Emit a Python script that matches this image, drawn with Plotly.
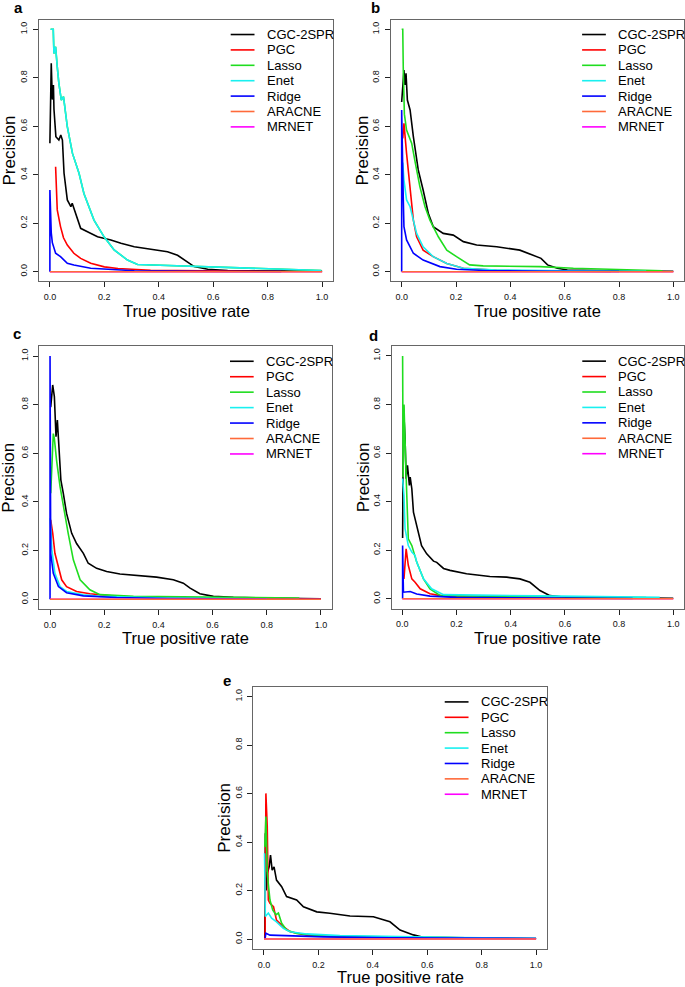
import plotly.graph_objects as go

# ---------------- data ----------------
series_names = ["CGC-2SPR", "PGC", "Lasso", "Enet", "Ridge", "ARACNE", "MRNET"]
series_colors = ["#000000", "#FF0000", "#1FDD1F", "#19F0F0", "#0000FF", "#FF6A3A", "#FF00FF"]
panel_letters = ["a", "b", "c", "d", "e"]
tick_vals = [0.0, 0.2, 0.4, 0.6, 0.8, 1.0]
tick_text = ["0.0", "0.2", "0.4", "0.6", "0.8", "1.0"]
x_title = "True positive rate"
y_title = "Precision"

flat_tpr = [0.0, 1.0]
flat_prec = [0.0, 0.0]

# panel a
a_cgc_tpr = [0.0, 0.005, 0.009, 0.013, 0.015, 0.019, 0.022, 0.033, 0.040, 0.046, 0.052, 0.064, 0.077, 0.082, 0.095, 0.113, 0.138, 0.175, 0.224, 0.261, 0.31, 0.371, 0.432, 0.469, 0.494, 0.53, 0.58, 0.653, 0.74, 0.85, 1.0]
a_cgc_prec = [0.53, 0.86, 0.71, 0.77, 0.67, 0.585, 0.557, 0.543, 0.564, 0.543, 0.406, 0.296, 0.268, 0.282, 0.240, 0.179, 0.165, 0.144, 0.131, 0.117, 0.103, 0.092, 0.082, 0.068, 0.048, 0.021, 0.010, 0.005, 0.004, 0.003, 0.002]
a_pgc_tpr = [0.021, 0.024, 0.027, 0.039, 0.05, 0.064, 0.088, 0.113, 0.15, 0.2, 0.25, 0.37, 0.55, 0.85]
a_pgc_prec = [0.433, 0.30, 0.255, 0.186, 0.14, 0.11, 0.076, 0.055, 0.035, 0.02, 0.013, 0.006, 0.003, 0.001]
a_enet_tpr = [0.0026, 0.0124, 0.0148, 0.021, 0.027, 0.033, 0.042, 0.05, 0.064, 0.083, 0.107, 0.125, 0.162, 0.199, 0.236, 0.285, 0.322, 0.4, 0.555, 0.8, 0.997]
a_enet_prec = [1.0, 1.0, 0.90, 0.928, 0.846, 0.777, 0.708, 0.722, 0.598, 0.488, 0.406, 0.323, 0.213, 0.144, 0.09, 0.048, 0.03, 0.027, 0.021, 0.010, 0.005]
a_lasso_tpr = a_enet_tpr   # hidden under Enet in panel a
a_lasso_prec = a_enet_prec
a_ridge_tpr = [0.0, 0.0, 0.005, 0.009, 0.021, 0.039, 0.064, 0.088, 0.15, 0.211, 0.31, 0.6, 0.85]
a_ridge_prec = [0.0, 0.337, 0.16, 0.12, 0.076, 0.062, 0.035, 0.028, 0.014, 0.010, 0.004, 0.001, 0.001]

# panel b
b_cgc_tpr = [0.0, 0.004, 0.0084, 0.012, 0.016, 0.021, 0.031, 0.043, 0.061, 0.079, 0.098, 0.116, 0.153, 0.19, 0.227, 0.276, 0.35, 0.435, 0.464, 0.513, 0.537, 0.573, 0.61, 0.7, 0.85, 1.0]
b_cgc_prec = [0.70, 0.78, 0.832, 0.77, 0.818, 0.708, 0.667, 0.557, 0.42, 0.337, 0.241, 0.186, 0.158, 0.151, 0.124, 0.11, 0.103, 0.089, 0.076, 0.055, 0.028, 0.014, 0.007, 0.005, 0.003, 0.002]
b_pgc_tpr = [0.004, 0.0084, 0.018, 0.031, 0.043, 0.055, 0.079, 0.116, 0.166, 0.227, 0.35, 0.5, 0.77]
b_pgc_prec = [0.55, 0.612, 0.488, 0.35, 0.213, 0.144, 0.089, 0.062, 0.034, 0.014, 0.006, 0.003, 0.001]
b_lasso_tpr = [0.0, 0.004, 0.006, 0.01, 0.018, 0.037, 0.05, 0.067, 0.086, 0.104, 0.135, 0.166, 0.202, 0.25, 0.3, 0.509, 0.632, 0.877, 0.96]
b_lasso_prec = [1.0, 1.0, 0.83, 0.65, 0.584, 0.529, 0.45, 0.351, 0.268, 0.213, 0.144, 0.089, 0.062, 0.028, 0.024, 0.021, 0.014, 0.007, 0.004]
b_enet_tpr = [0.004, 0.0084, 0.018, 0.031, 0.055, 0.079, 0.116, 0.166, 0.227, 0.35, 0.6, 0.9]
b_enet_prec = [0.45, 0.378, 0.296, 0.268, 0.158, 0.103, 0.062, 0.034, 0.014, 0.007, 0.004, 0.002]
b_ridge_tpr = [0.0, 0.0, 0.006, 0.0084, 0.018, 0.043, 0.079, 0.141, 0.202, 0.325, 0.55, 0.8]
b_ridge_prec = [0.0, 0.667, 0.296, 0.186, 0.131, 0.076, 0.048, 0.021, 0.010, 0.004, 0.002, 0.001]

# panel c
c_cgc_tpr = [0.0025, 0.0098, 0.016, 0.022, 0.027, 0.034, 0.040, 0.049, 0.061, 0.080, 0.098, 0.123, 0.141, 0.172, 0.209, 0.258, 0.332, 0.393, 0.455, 0.492, 0.517, 0.553, 0.603, 0.677, 0.8, 1.0]
c_cgc_prec = [0.79, 0.881, 0.833, 0.668, 0.737, 0.572, 0.49, 0.435, 0.353, 0.271, 0.229, 0.189, 0.148, 0.127, 0.114, 0.104, 0.096, 0.091, 0.080, 0.066, 0.046, 0.023, 0.012, 0.008, 0.005, 0.002]
c_pgc_tpr = [0.0025, 0.01, 0.018, 0.031, 0.043, 0.061, 0.098, 0.147, 0.246, 0.43, 0.7]
c_pgc_prec = [0.326, 0.271, 0.189, 0.134, 0.08, 0.052, 0.032, 0.023, 0.012, 0.005, 0.002]
c_lasso_tpr = [0.0025, 0.012, 0.016, 0.024, 0.037, 0.049, 0.067, 0.086, 0.111, 0.147, 0.184, 0.308, 0.553, 0.92]
c_lasso_prec = [0.436, 0.681, 0.66, 0.572, 0.463, 0.381, 0.271, 0.162, 0.08, 0.039, 0.019, 0.012, 0.008, 0.005]
c_enet_tpr = [0.0008, 0.0068, 0.018, 0.037, 0.061, 0.123, 0.184, 0.43, 0.8]
c_enet_prec = [0.333, 0.203, 0.107, 0.052, 0.032, 0.018, 0.012, 0.005, 0.002]
c_ridge_tpr = [0.0, 0.0, 0.0025, 0.012, 0.031, 0.061, 0.123, 0.246, 0.43, 0.8]
c_ridge_prec = [0.0, 1.0, 0.189, 0.107, 0.052, 0.027, 0.014, 0.007, 0.003, 0.001]

# panel d
d_cgc_tpr = [0.001, 0.004, 0.010, 0.014, 0.019, 0.026, 0.029, 0.035, 0.041, 0.053, 0.071, 0.090, 0.115, 0.127, 0.152, 0.176, 0.237, 0.323, 0.385, 0.434, 0.471, 0.508, 0.545, 0.594, 0.7, 0.85, 1.0]
d_cgc_prec = [0.25, 0.797, 0.66, 0.494, 0.55, 0.467, 0.501, 0.453, 0.357, 0.30, 0.219, 0.185, 0.155, 0.150, 0.125, 0.117, 0.103, 0.092, 0.089, 0.082, 0.068, 0.034, 0.013, 0.007, 0.005, 0.003, 0.002]
d_pgc_tpr = [0.006, 0.010, 0.014, 0.022, 0.035, 0.047, 0.066, 0.102, 0.152, 0.3, 0.6]
d_pgc_prec = [0.082, 0.165, 0.206, 0.138, 0.082, 0.068, 0.041, 0.021, 0.011, 0.005, 0.002]
d_lasso_tpr = [0.001, 0.003, 0.006, 0.010, 0.016, 0.022, 0.035, 0.053, 0.078, 0.102, 0.139, 0.2, 0.5, 0.9]
d_lasso_prec = [1.0, 0.5, 0.8, 0.604, 0.44, 0.247, 0.219, 0.151, 0.082, 0.041, 0.014, 0.012, 0.008, 0.005]
d_enet_tpr = [0.001, 0.006, 0.010, 0.022, 0.035, 0.047, 0.053, 0.078, 0.108, 0.152, 0.5, 0.95]
d_enet_prec = [0.495, 0.426, 0.289, 0.219, 0.192, 0.178, 0.151, 0.082, 0.041, 0.017, 0.012, 0.006]
d_ridge_tpr = [0.001, 0.001, 0.004, 0.016, 0.029, 0.053, 0.102, 0.2, 0.45, 0.85]
d_ridge_prec = [0.0, 0.219, 0.027, 0.027, 0.03, 0.02, 0.011, 0.006, 0.003, 0.001]

# panel e
e_cgc_tpr = [0.003, 0.005, 0.008, 0.012, 0.019, 0.024, 0.030, 0.037, 0.046, 0.065, 0.083, 0.12, 0.145, 0.194, 0.242, 0.316, 0.402, 0.463, 0.5, 0.549, 0.585, 0.7, 0.85, 1.0]
e_cgc_prec = [0.0, 0.436, 0.2, 0.271, 0.298, 0.346, 0.284, 0.298, 0.243, 0.216, 0.175, 0.161, 0.133, 0.112, 0.106, 0.095, 0.092, 0.071, 0.037, 0.017, 0.007, 0.005, 0.003, 0.002]
e_pgc_tpr = [0.004, 0.006, 0.007, 0.012, 0.016, 0.022, 0.035, 0.046, 0.071, 0.096, 0.157, 0.279, 0.6]
e_pgc_prec = [0.0, 0.271, 0.601, 0.464, 0.161, 0.147, 0.133, 0.078, 0.051, 0.03, 0.016, 0.009, 0.003]
e_lasso_tpr = [0.003, 0.007, 0.012, 0.022, 0.032, 0.044, 0.053, 0.065, 0.083, 0.12, 0.219, 0.463, 0.71, 0.8]
e_lasso_prec = [0.38, 0.505, 0.271, 0.161, 0.12, 0.1, 0.107, 0.065, 0.037, 0.023, 0.012, 0.009, 0.005, 0.004]
e_enet_tpr = [0.002, 0.005, 0.016, 0.028, 0.046, 0.071, 0.096, 0.157, 0.279, 0.463, 0.71, 1.0]
e_enet_prec = [0.354, 0.093, 0.107, 0.086, 0.071, 0.044, 0.03, 0.021, 0.014, 0.010, 0.006, 0.003]
e_ridge_tpr = [0.004, 0.007, 0.022, 0.096, 0.219, 0.463, 1.0]
e_ridge_prec = [0.0, 0.024, 0.016, 0.013, 0.009, 0.005, 0.002]

panel_series = [
    [(a_cgc_tpr, a_cgc_prec), (a_pgc_tpr, a_pgc_prec), (a_lasso_tpr, a_lasso_prec), (a_enet_tpr, a_enet_prec), (a_ridge_tpr, a_ridge_prec), (flat_tpr, flat_prec), (flat_tpr, flat_prec)],
    [(b_cgc_tpr, b_cgc_prec), (b_pgc_tpr, b_pgc_prec), (b_lasso_tpr, b_lasso_prec), (b_enet_tpr, b_enet_prec), (b_ridge_tpr, b_ridge_prec), (flat_tpr, flat_prec), (flat_tpr, flat_prec)],
    [(c_cgc_tpr, c_cgc_prec), (c_pgc_tpr, c_pgc_prec), (c_lasso_tpr, c_lasso_prec), (c_enet_tpr, c_enet_prec), (c_ridge_tpr, c_ridge_prec), (flat_tpr, flat_prec), (flat_tpr, flat_prec)],
    [(d_cgc_tpr, d_cgc_prec), (d_pgc_tpr, d_pgc_prec), (d_lasso_tpr, d_lasso_prec), (d_enet_tpr, d_enet_prec), (d_ridge_tpr, d_ridge_prec), (flat_tpr, flat_prec), (flat_tpr, flat_prec)],
    [(e_cgc_tpr, e_cgc_prec), (e_pgc_tpr, e_pgc_prec), (e_lasso_tpr, e_lasso_prec), (e_enet_tpr, e_enet_prec), (e_ridge_tpr, e_ridge_prec), (flat_tpr, flat_prec), (flat_tpr, flat_prec)],
]

# ---------------- layout geometry (pixels) ----------------
W, H = 685, 987
# plot boxes: (left, right, top, bottom) in px
boxes = [
    (39.0, 333.0, 19.6, 281.4),
    (390.8, 684.2, 19.6, 281.4),
    (39.2, 331.8, 346.3, 609.0),
    (391.5, 684.1, 346.2, 608.5),
    (253.1, 547.0, 687.0, 948.7),
]
ytitle_x = [9, 362, 9, 363, 225]
xtitle_y = [311, 311, 638, 638, 977]
letter_pos = [(18, 7), (375, 7), (17, 334), (373, 335), (227, 680)]

FONT = "Liberation Sans, Arial, Helvetica, sans-serif"

fig = go.Figure()
layout = dict(
    width=W, height=H, autosize=False,
    margin=dict(l=0, r=0, t=0, b=0),
    paper_bgcolor="white", plot_bgcolor="white",
    showlegend=False,
    font=dict(family=FONT, color="#000"),
)
shapes = []
annotations = []

draw_order = [0, 1, 2, 3, 4, 6, 5]  # MRNET under ARACNE

for p, (l, r, t, b) in enumerate(boxes):
    n = p + 1
    xa = "xaxis" if n == 1 else f"xaxis{n}"
    ya = "yaxis" if n == 1 else f"yaxis{n}"
    xr = "x" if n == 1 else f"x{n}"
    yr = "y" if n == 1 else f"y{n}"
    axis_common = dict(
        range=[-0.04, 1.04], tickvals=tick_vals, ticktext=tick_text,
        showline=True, mirror=True, linecolor="#666", linewidth=1,
        ticks="outside", ticklen=5, tickcolor="#222", tickwidth=1,
        showgrid=False, zeroline=False, fixedrange=True,
        tickfont=dict(size=9, family=FONT, color="#111"),
    )
    layout[xa] = dict(axis_common, domain=[l / W, r / W], anchor=yr, ticklabelstandoff=2)
    layout[ya] = dict(axis_common, domain=[1 - b / H, 1 - t / H], anchor=xr, tickangle=-90, ticklabelstandoff=2)

    for i in draw_order:
        xs, ys = panel_series[p][i]
        fig.add_trace(go.Scatter(
            x=xs, y=ys, mode="lines", name=series_names[i],
            line=dict(color=series_colors[i], width=1.6),
            xaxis=xr, yaxis=yr, hoverinfo="skip",
        ))

    # legend (R style, no frame)
    for i, name in enumerate(series_names):
        yy = 1 - 0.057 - i * 0.0588
        shapes.append(dict(type="line", xref=f"{xr} domain", yref=f"{yr} domain",
                           x0=0.652, x1=0.733, y0=yy, y1=yy,
                           line=dict(color=series_colors[i], width=1.6)))
        annotations.append(dict(text=name, xref=f"{xr} domain", yref=f"{yr} domain",
                                x=0.768, y=yy, xanchor="left", yanchor="middle",
                                showarrow=False, font=dict(size=13, family=FONT, color="#000")))
    # axis titles
    annotations.append(dict(text=x_title, xref="paper", yref="paper",
                            x=(l + r) / 2 / W, y=1 - xtitle_y[p] / H,
                            xanchor="center", yanchor="middle", showarrow=False,
                            font=dict(size=16.5, family=FONT, color="#000")))
    annotations.append(dict(text=y_title, xref="paper", yref="paper",
                            x=ytitle_x[p] / W, y=1 - (t + b) / 2 / H, textangle=-90,
                            xanchor="center", yanchor="middle", showarrow=False,
                            font=dict(size=17, family=FONT, color="#000")))
    # panel letter
    lx, ly = letter_pos[p]
    annotations.append(dict(text=f"<b>{panel_letters[p]}</b>", xref="paper", yref="paper",
                            x=lx / W, y=1 - ly / H, xanchor="center", yanchor="middle",
                            showarrow=False, font=dict(size=15, family=FONT, color="#000")))

layout["shapes"] = shapes
layout["annotations"] = annotations
fig.update_layout(**layout)
fig.write_html(
    "out.html",
    config={"displayModeBar": False},
    post_script="document.body.style.margin='0';document.body.style.padding='0';document.body.style.overflow='hidden';",
)
